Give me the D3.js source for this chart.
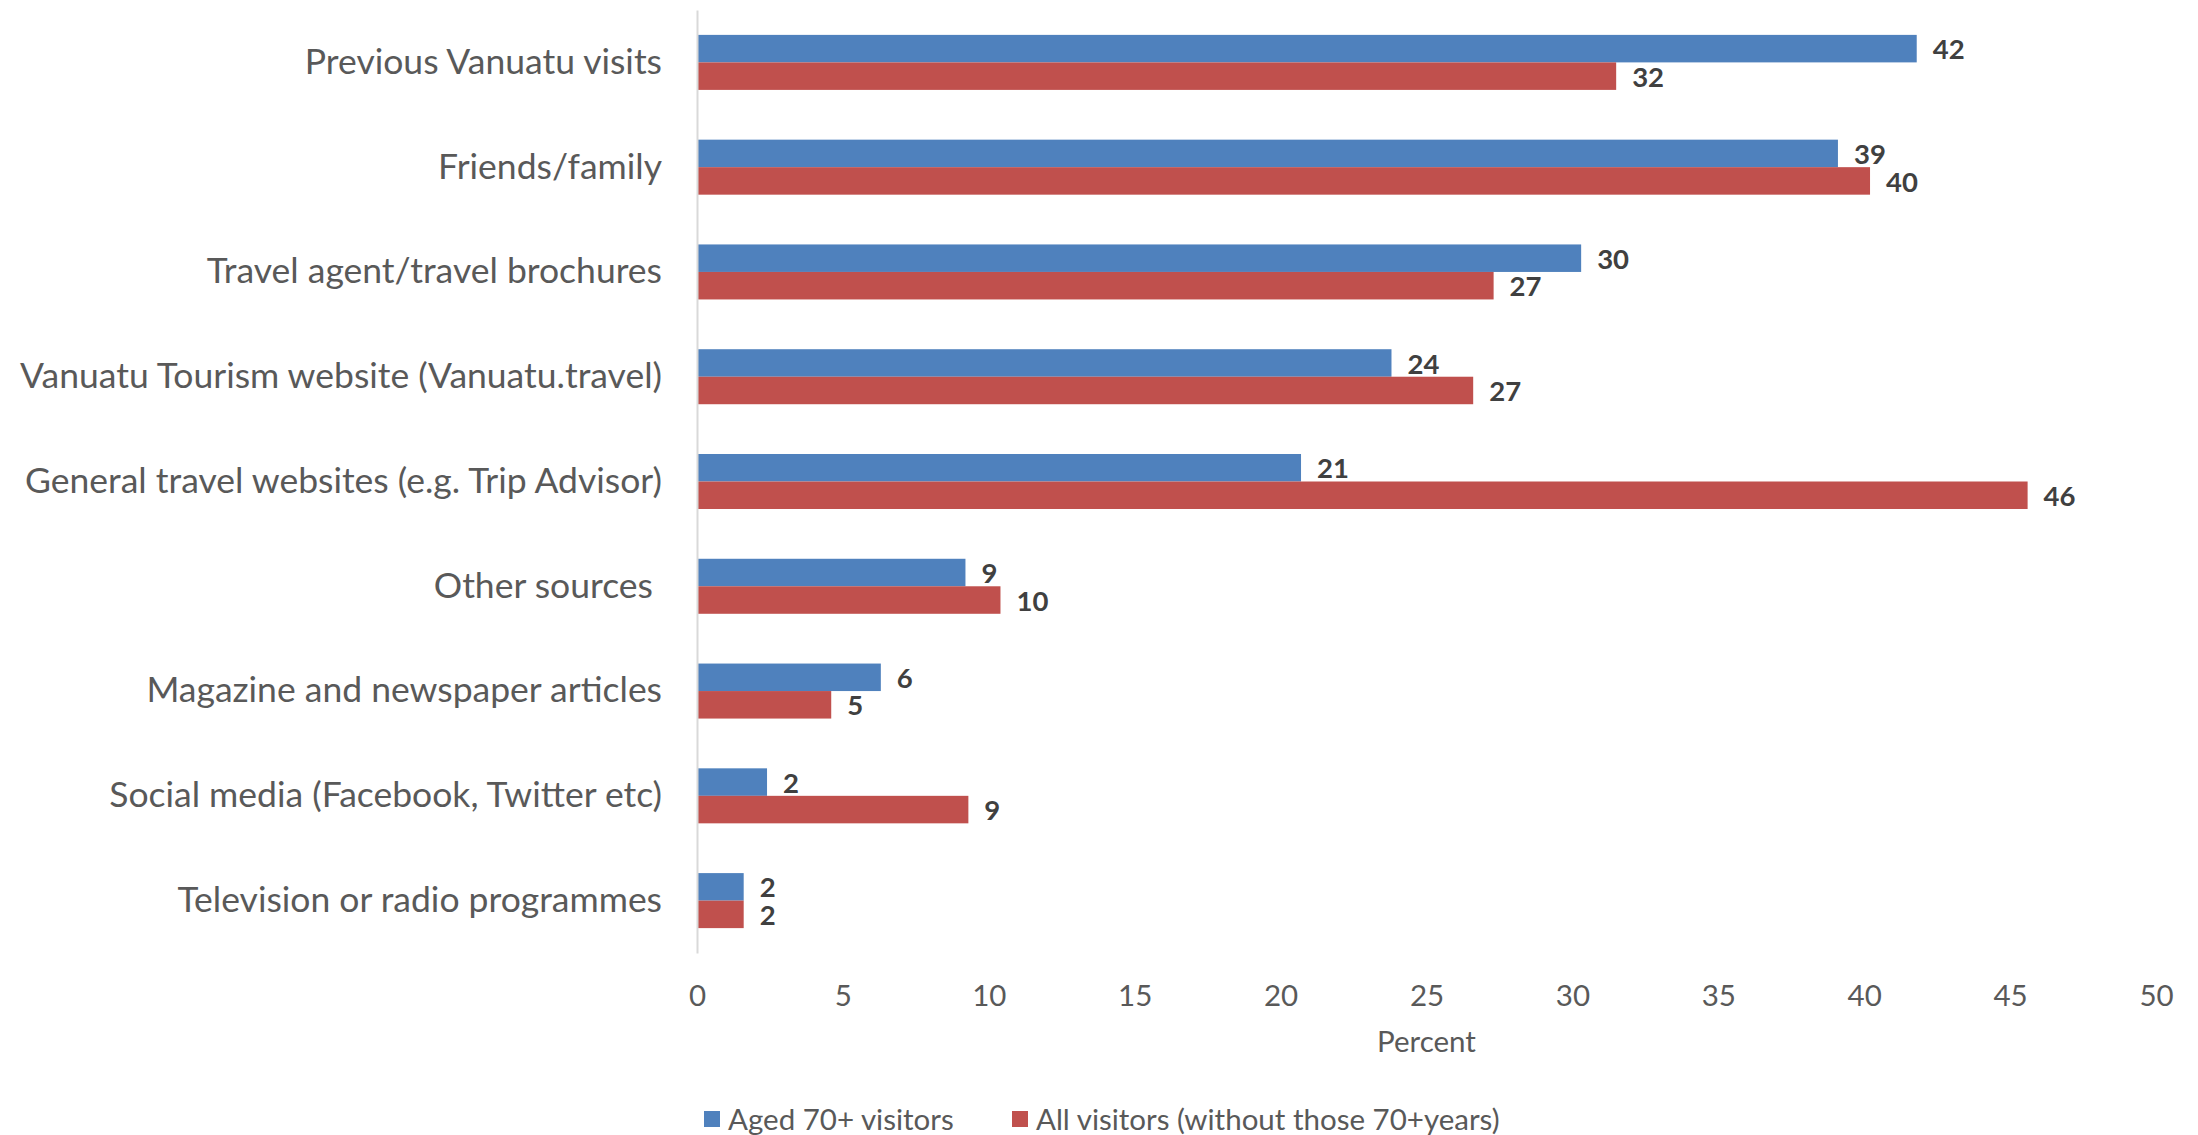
<!DOCTYPE html>
<html>
<head>
<meta charset="utf-8">
<script src="https://cdn.jsdelivr.net/npm/d3@7"></script>
<style>
  html, body { margin: 0; padding: 0; background: #ffffff; }
  svg { display: block; }
  text { font-family: Lato, "Noto Sans", sans-serif; }
</style>
</head>
<body>
<svg id="chart" width="2198" height="1135"></svg>
<script>
// Information sources used before visiting Vanuatu (percent of respondents)
const categories = [
  "Previous Vanuatu visits",
  "Friends/family",
  "Travel agent/travel brochures",
  "Vanuatu Tourism website (Vanuatu.travel)",
  "General travel websites (e.g. Trip Advisor)",
  "Other sources ",
  "Magazine and newspaper articles",
  "Social media (Facebook, Twitter etc)",
  "Television or radio programmes"
];
const seriesNames = ["Aged 70+ visitors", "All visitors (without those 70+years)"];
const aged70 = [41.8, 39.1, 30.3, 23.8, 20.7, 9.2, 6.3, 2.4, 1.6];
const allOthers = [31.5, 40.2, 27.3, 26.6, 45.6, 10.4, 4.6, 9.3, 1.6];
const xTicks = [0, 5, 10, 15, 20, 25, 30, 35, 40, 45, 50];
const seriesColors = ["#4F81BD", "#C0504D"];

const svg = d3.select("#chart");
const plot = { left: 697, right: 2156, top: 10, bottom: 953 };

const x = d3.scaleLinear().domain([0, 50]).range([plot.left, plot.right]);
const y = d3.scaleBand().domain(categories)
  .range([plot.top, plot.bottom])
  .paddingInner(0.475).paddingOuter(0.2375);
const ySub = d3.scaleBand().domain([0, 1]).range([0, y.bandwidth()]).padding(0);

const rows = categories.map((c, i) => ({ cat: c, values: [aged70[i], allOthers[i]] }));

// bars
const groups = svg.append("g").selectAll("g").data(rows).join("g")
  .attr("transform", d => `translate(0,${y(d.cat)})`);

groups.selectAll("rect").data(d => d.values.map((v, s) => ({ v, s }))).join("rect")
  .attr("x", x(0))
  .attr("y", d => ySub(d.s))
  .attr("width", d => x(d.v) - x(0))
  .attr("height", ySub.bandwidth())
  .attr("fill", d => seriesColors[d.s]);

// value labels
groups.selectAll("text.val").data(d => d.values.map((v, s) => ({ v, s }))).join("text")
  .attr("class", "val")
  .attr("x", d => x(d.v) + 16)
  .attr("y", d => ySub(d.s) + ySub.bandwidth() / 2 + 1)
  .attr("dy", "0.35em")
  .attr("font-size", 27.5)
  .attr("font-weight", "bold")
  .attr("fill", "#404040")
  .text(d => d3.format(".0f")(d.v));

// category axis (left)
const yAxis = svg.append("g")
  .attr("transform", `translate(${plot.left},0)`)
  .call(d3.axisLeft(y).tickSize(0).tickPadding(35));
yAxis.select(".domain").attr("stroke", "#D9D9D9").attr("stroke-width", 2);
yAxis.selectAll("text")
  .attr("font-size", 35.5)
  .attr("fill", "#595959")
  .style("white-space", "pre")
  .attr("font-family", "Lato, 'Noto Sans', sans-serif");

// value axis (bottom), no axis line
const xAxis = svg.append("g")
  .attr("transform", `translate(0,${plot.bottom})`)
  .call(d3.axisBottom(x).tickValues(xTicks).tickSize(0).tickPadding(32));
xAxis.select(".domain").remove();
xAxis.selectAll("text")
  .attr("font-size", 29.5)
  .attr("fill", "#595959")
  .attr("font-family", "Lato, 'Noto Sans', sans-serif");

svg.append("text")
  .attr("x", (plot.left + plot.right) / 2)
  .attr("y", 1052)
  .attr("text-anchor", "middle")
  .attr("font-size", 29.5)
  .attr("fill", "#595959")
  .text("Percent");

// legend
const legendItems = [
  { name: seriesNames[0], color: seriesColors[0], x: 704 },
  { name: seriesNames[1], color: seriesColors[1], x: 1012 }
];
const legend = svg.append("g").selectAll("g").data(legendItems).join("g")
  .attr("transform", d => `translate(${d.x},1120)`);
legend.append("rect")
  .attr("x", 0).attr("y", -9).attr("width", 16).attr("height", 16)
  .attr("fill", d => d.color);
legend.append("text")
  .attr("x", 24).attr("y", 0).attr("dy", "0.35em")
  .attr("font-size", 29.5)
  .attr("fill", "#595959")
  .text(d => d.name);
</script>
</body>
</html>
